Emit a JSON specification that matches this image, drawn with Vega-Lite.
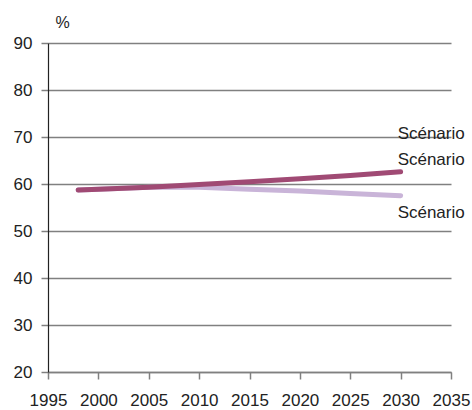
{
  "$schema": "https://vega.github.io/schema/vega-lite/v6.json",
  "autosize": "none",
  "width": 403,
  "height": 329,
  "padding": {"left": 48, "top": 43, "right": 21, "bottom": 38},
  "background": "white",
  "config": {
    "view": {"stroke": null},
    "font": "Liberation Sans"
  },
  "datasets": {
    "lines": [
      {"series": "Scénario haut", "year": 1998, "value": 58.7},
      {"series": "Scénario haut", "year": 2000, "value": 58.9},
      {"series": "Scénario haut", "year": 2005, "value": 59.3},
      {"series": "Scénario haut", "year": 2010, "value": 59.9},
      {"series": "Scénario haut", "year": 2015, "value": 60.5},
      {"series": "Scénario haut", "year": 2020, "value": 61.1},
      {"series": "Scénario haut", "year": 2025, "value": 61.8},
      {"series": "Scénario haut", "year": 2030, "value": 62.6},
      {"series": "Scénario bas", "year": 1998, "value": 58.7},
      {"series": "Scénario bas", "year": 2000, "value": 58.9},
      {"series": "Scénario bas", "year": 2005, "value": 59.3},
      {"series": "Scénario bas", "year": 2010, "value": 59.3},
      {"series": "Scénario bas", "year": 2015, "value": 58.9},
      {"series": "Scénario bas", "year": 2020, "value": 58.5},
      {"series": "Scénario bas", "year": 2025, "value": 58.0},
      {"series": "Scénario bas", "year": 2030, "value": 57.5}
    ],
    "labels": [
      {"label": "Scénario", "year": 2030, "value": 69.5},
      {"label": "Scénario", "year": 2030, "value": 64.0},
      {"label": "Scénario", "year": 2030, "value": 52.8}
    ]
  },
  "layer": [
    {
      "data": {"name": "lines"},
      "transform": [{"filter": "datum.series === 'Scénario bas'"}],
      "mark": {"type": "line", "strokeWidth": 5, "strokeCap": "round", "color": "#c9b4d8"},
      "encoding": {
        "x": {
          "field": "year", "type": "quantitative",
          "scale": {"domain": [1995, 2035], "nice": false, "zero": false},
          "axis": {
            "values": [1995, 2000, 2005, 2010, 2015, 2020, 2025, 2030, 2035],
            "format": "d", "title": null, "grid": false,
            "labelOverlap": false, "labelFlush": false, "labelBound": false,
            "domainColor": "#808080", "domainWidth": 1.5,
            "tickColor": "#808080", "tickWidth": 1.5, "tickSize": 7,
            "labelFontSize": 17, "labelColor": "#222222", "labelPadding": 13,
            "labelFont": "Liberation Sans"
          }
        },
        "y": {
          "field": "value", "type": "quantitative",
          "scale": {"domain": [20, 90], "nice": false, "zero": false},
          "axis": {
            "values": [20, 30, 40, 50, 60, 70, 80, 90],
            "title": "%", "titleAngle": 0, "titleX": 7, "titleY": -21,
            "titleAlign": "left", "titleBaseline": "middle",
            "titleFontSize": 16, "titleFontWeight": "normal", "titleColor": "#222222",
            "titleFont": "Liberation Sans",
            "grid": true, "gridColor": "#808080", "gridWidth": 1.5,
            "domainColor": "#222222", "domainWidth": 1.2,
            "tickColor": "#808080", "tickWidth": 1.5, "tickSize": 7,
            "labelFontSize": 17, "labelColor": "#222222", "labelPadding": 9,
            "labelFont": "Liberation Sans"
          }
        }
      }
    },
    {
      "data": {"name": "lines"},
      "transform": [{"filter": "datum.series === 'Scénario haut'"}],
      "mark": {"type": "line", "strokeWidth": 5, "strokeCap": "round", "color": "#a04a74"},
      "encoding": {
        "x": {"field": "year", "type": "quantitative"},
        "y": {"field": "value", "type": "quantitative"}
      }
    },
    {
      "data": {"name": "labels"},
      "mark": {"type": "text", "align": "left", "baseline": "alphabetic", "dx": -3, "fontSize": 17, "color": "#222222", "font": "Liberation Sans"},
      "encoding": {
        "x": {"field": "year", "type": "quantitative"},
        "y": {"field": "value", "type": "quantitative"},
        "text": {"field": "label"}
      }
    }
  ]
}
